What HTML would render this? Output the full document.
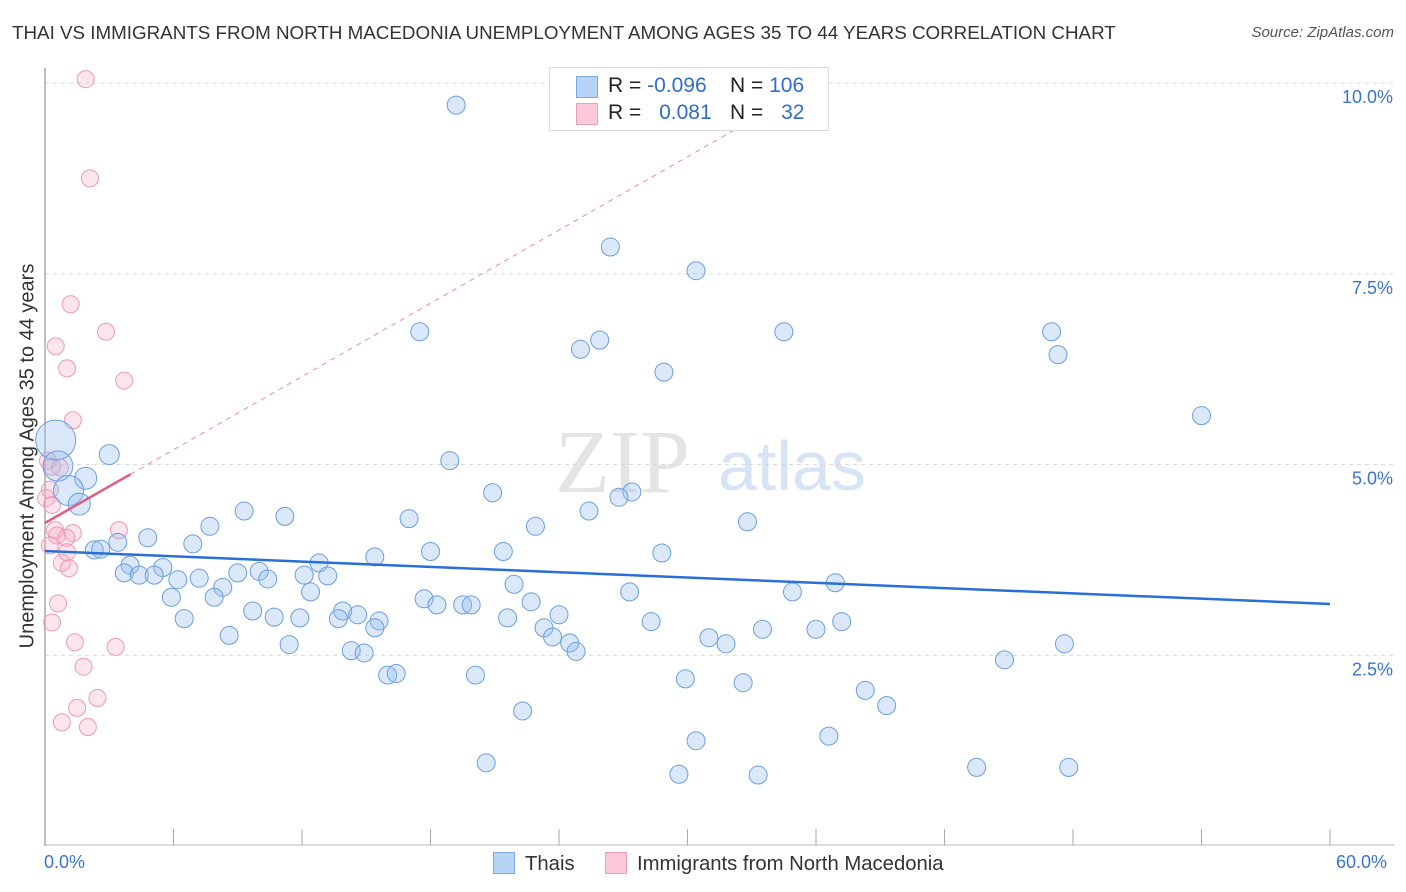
<!DOCTYPE html>
<html><head><meta charset="utf-8"><style>
body{margin:0;background:#fff;font-family:"Liberation Sans",sans-serif;}
#wrap{position:relative;width:1406px;height:892px;overflow:hidden;}
.t{position:absolute;white-space:nowrap;}
</style></head><body>
<div id="wrap">
<div class="t" style="left:12px;top:22px;font-size:18.8px;color:#333;">THAI VS IMMIGRANTS FROM NORTH MACEDONIA UNEMPLOYMENT AMONG AGES 35 TO 44 YEARS CORRELATION CHART</div>
<div class="t" style="right:12px;top:24px;font-size:15px;color:#555;font-style:italic;">Source: ZipAtlas.com</div>
<svg id="svg" width="1406" height="892" style="position:absolute;left:0;top:0"></svg>
</div>
<script>
const blueX=[19.2,26.4,30.4,17.5,25.0,25.9,34.5,47.0,47.3,28.9,54.0,3.0,18.9,0.5,0.6,1.9,1.1,1.6,20.9,27.4,26.8,9.3,25.4,7.7,11.2,17.0,22.9,32.8,4.8,3.4,6.9,2.3,2.6,18.0,21.4,28.8,15.4,3.97,5.5,12.8,3.7,4.4,5.1,6.2,7.2,9.0,10.0,10.4,12.1,13.2,8.3,21.9,36.9,27.3,34.9,5.9,7.9,12.4,17.7,18.3,19.5,19.9,22.7,9.7,10.7,11.9,13.9,14.6,6.5,13.7,15.6,21.6,24.0,28.3,15.4,23.3,36.0,37.2,8.6,23.7,24.5,31.0,31.8,33.5,11.4,14.3,14.9,24.8,44.8,47.6,16.0,16.4,20.1,29.9,32.6,38.3,39.3,22.3,30.4,36.6,20.6,29.6,33.3,43.5,47.8];
const blueY=[9.71,7.85,7.54,6.74,6.51,6.63,6.74,6.74,6.44,6.21,5.64,5.13,5.05,5.32,4.98,4.82,4.66,4.48,4.63,4.64,4.57,4.39,4.39,4.19,4.32,4.29,4.19,4.25,4.04,3.98,3.96,3.88,3.89,3.86,3.86,3.84,3.79,3.68,3.65,3.71,3.58,3.55,3.55,3.49,3.51,3.58,3.60,3.50,3.55,3.54,3.39,3.43,3.45,3.33,3.33,3.26,3.26,3.33,3.24,3.16,3.16,3.16,3.20,3.08,3.00,2.99,3.08,3.03,2.98,2.98,2.95,2.99,3.03,2.94,2.86,2.86,2.84,2.94,2.76,2.74,2.66,2.73,2.65,2.84,2.64,2.56,2.53,2.55,2.44,2.65,2.24,2.26,2.24,2.19,2.14,2.04,1.84,1.77,1.38,1.44,1.09,0.94,0.93,1.03,1.03];
const blueR=[9,9,9,9,9,9,9,9,9,9,9,10,9,20,15,11,15,11,9,9,9,9,9,9,9,9,9,9,9,9,9,9,9,9,9,9,9,9,9,9,9,9,9,9,9,9,9,9,9,9,9,9,9,9,9,9,9,9,9,9,9,9,9,9,9,9,9,9,9,9,9,9,9,9,9,9,9,9,9,9,9,9,9,9,9,9,9,9,9,9,9,9,9,9,9,9,9,9,9,9,9,9,9,9,9];
const pinkX=[1.9,2.1,1.2,0.5,2.85,1.03,3.7,1.3,0.14,0.33,0.7,0.23,0.05,0.33,0.47,0.56,1.3,1.0,3.45,1.03,0.23,0.79,1.12,0.61,0.33,1.4,3.3,1.8,2.45,1.5,0.79,2.0];
const pinkY=[10.05,8.75,7.10,6.55,6.74,6.26,6.10,5.58,5.05,4.97,4.96,4.67,4.56,4.47,4.14,4.07,4.10,4.04,4.14,3.85,3.94,3.71,3.64,3.18,2.93,2.67,2.61,2.35,1.94,1.81,1.62,1.56];
const trendIntercept=[3.866,4.233];
const trendSlope=[-0.01157,0.160];
const yTicks=[2.5,5.0,7.5,10.0];
const yTickLabels=["2.5%","5.0%","7.5%","10.0%"];
const xTickCount=10;

const X0=45,X1=1330,Y0=846,PPU=76.3;
const sx=v=>X0+v/60*(X1-X0);
const sy=v=>Y0-v*PPU;
const svg=document.getElementById('svg');
const NS='http://www.w3.org/2000/svg';
function mk(tag,attrs,parent){const e=document.createElementNS(NS,tag);for(const k in attrs)e.setAttribute(k,attrs[k]);(parent||svg).appendChild(e);return e;}

const wm=mk('text',{x:555,y:492,'font-family':'Liberation Serif,serif','font-size':90,fill:'#e4e4e4'});


wm.textContent='ZIP';
const wm2=mk('text',{x:718,y:490,'font-family':'Liberation Sans,sans-serif','font-size':70,fill:'#d6e4f5'});


wm2.textContent='atlas';

yTicks.forEach((v,i)=>{
 const g=mk('line',{x1:X0,x2:1395,y1:sy(v),y2:sy(v),stroke:'#d8d8d8','stroke-dasharray':'4,4'});
 
 
 const t=mk('text',{x:1393,y:sy(v)+20,'text-anchor':'end','font-size':18,fill:'#3a74d0','font-family':'Liberation Sans,sans-serif'});
 
 
 t.textContent=yTickLabels[i];
});
const ax=mk('line',{x1:X0,x2:X0,y1:68,y2:846,stroke:'#aaa','stroke-width':1.5});


const bx=mk('line',{x1:X0,x2:1395,y1:845,y2:845,stroke:'#bbb','stroke-width':1});


for(let i=0;i<=xTickCount;i++){
 const x=sx(i*60/xTickCount);
 const tk=mk('line',{x1:x,x2:x,y1:829,y2:845,stroke:'#aaa'});
 
 
}

function pts(xs,ys,rs,fill,stroke,name){
 xs.forEach((v,i)=>{
  const c=mk('circle',{cx:sx(v),cy:sy(ys[i]),r:rs?rs[i]:8.5,fill:fill,stroke:stroke,'stroke-width':1});
  
  
 });
}
pts(pinkX,pinkY,null,'rgba(248,170,195,0.3)','#ec9ab4','point-north-macedonia');
pts(blueX,blueY,blueR,'rgba(150,190,240,0.35)','#6a9fe0','point-thai');

const bl=mk('line',{x1:sx(0),y1:sy(trendIntercept[0]),x2:sx(60),y2:sy(trendIntercept[0]+trendSlope[0]*60),stroke:'#2a6fd6','stroke-width':2.5});


const xEnd=(10-trendIntercept[1])/trendSlope[1];
const pd=mk('line',{x1:sx(4),y1:sy(trendIntercept[1]+trendSlope[1]*4),x2:sx(xEnd),y2:sy(10),stroke:'#e98aa8','stroke-width':1,'stroke-dasharray':'5,5'});


const pl=mk('line',{x1:sx(0),y1:sy(trendIntercept[1]),x2:sx(4),y2:sy(trendIntercept[1]+trendSlope[1]*4),stroke:'#e25b88','stroke-width':2.5});


</script>
<div class="t" style="left:28px;top:456px;transform:translate(-50%,-50%) rotate(-90deg);font-size:20px;color:#333;">Unemployment Among Ages 35 to 44 years</div>
<div class="t" style="left:44px;top:852px;font-size:18px;color:#3a74d0;">0.0%</div>
<div class="t" style="left:1336px;top:852px;font-size:18px;color:#3a74d0;">60.0%</div>
<div style="position:absolute;left:549px;top:67px;width:278px;height:62px;background:#fff;border:1px solid #ddd;font-size:21px;color:#222;">
 <div style="position:absolute;left:26px;top:8px;width:20px;height:20px;background:#b7d3f6;border:1px solid #7aa8e6;"></div>
 <div class="t" style="left:58px;top:6px;">R = <span style="color:#2f6ccc">-0.096</span></div>
 <div class="t" style="left:180px;top:6px;">N = <span style="color:#2f6ccc">106</span></div>
 <div style="position:absolute;left:26px;top:35px;width:20px;height:20px;background:#fbc9d8;border:1px solid #ee9db6;"></div>
 <div class="t" style="left:58px;top:33px;">R = <span style="color:#2f6ccc;margin-left:12px">0.081</span></div>
 <div class="t" style="left:180px;top:33px;">N = <span style="color:#2f6ccc;margin-left:12px">32</span></div>
</div>
<div style="position:absolute;left:493px;top:852px;font-size:20.3px;color:#333;">
 <div style="position:absolute;left:0;top:0;white-space:nowrap;"><span style="display:inline-block;width:20px;height:20px;background:#b7d3f6;border:1px solid #7aa8e6;vertical-align:-4px;margin-right:10px"></span>Thais</div>
 <div style="position:absolute;left:112px;top:0;white-space:nowrap;"><span style="display:inline-block;width:20px;height:20px;background:#fbc9d8;border:1px solid #ee9db6;vertical-align:-4px;margin-right:10px"></span>Immigrants from North Macedonia</div>
</div>
</body></html>
